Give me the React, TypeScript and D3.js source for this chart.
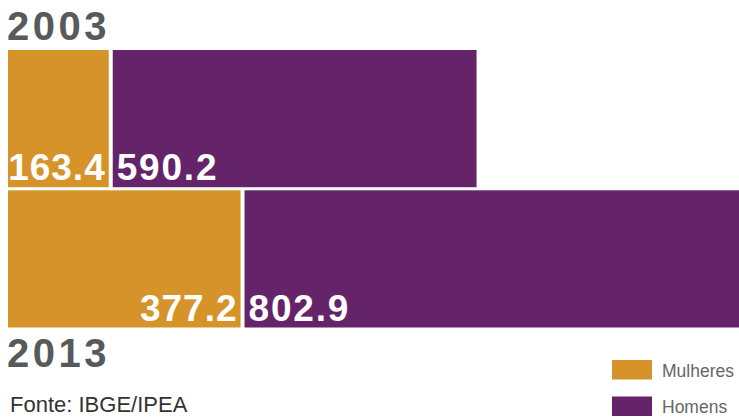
import React from "react";
import * as d3 from "d3";

const years = ["2003", "2013"];
const mulheres = [163.4, 377.2];
const homens = [590.2, 802.9];
const seriesNames = ["Mulheres", "Homens"];
const colors = ["#D6932A", "#652369"];

const W = 739;
const H = 417;

export default function App() {
  const left = 8;
  const gap = 4;
  const x = d3.scaleLinear().domain([0, 1180.1]).range([0, 727.5]);
  const y = d3.scaleBand().domain(years).range([50, 327.5]).paddingInner(0.022);
  const bw = y.bandwidth();
  const font = "'Liberation Sans', Arial, Helvetica, sans-serif";

  return (
    <svg width={W} height={H} style={{ position: "absolute", left: 0, top: 0, display: "block" }} fontFamily={font}>
      {years.map((yr, i) => {
        const y0 = y(yr) as number;
        const mw = x(mulheres[i]);
        const hx = left + mw + gap;
        const hw = x(homens[i]);
        const labelY = y0 + bw - 7;
        return (
          <g key={yr}>
            <rect x={left} y={y0} width={mw} height={bw} fill={colors[0]} />
            <rect x={hx} y={y0} width={hw} height={bw} fill={colors[1]} />
            <text x={left + mw - 3} y={labelY} textAnchor="end" fill="#fff" fontWeight="bold" fontSize={37} letterSpacing={1}>
              {mulheres[i].toFixed(1)}
            </text>
            <text x={hx + 4} y={labelY} fill="#fff" fontWeight="bold" fontSize={37} letterSpacing={1.8}>
              {homens[i].toFixed(1)}
            </text>
          </g>
        );
      })}
      <text x={7} y={40} fill="#58595B" fontWeight="bold" fontSize={40} letterSpacing={3.5}>{years[0]}</text>
      <text x={7} y={367} fill="#58595B" fontWeight="bold" fontSize={40} letterSpacing={3.5}>{years[1]}</text>
      <text x={10} y={412} fill="#333" fontSize={22}>Fonte: IBGE/IPEA</text>
      {seriesNames.map((s, i) => (
        <g key={s}>
          <rect x={612} y={360 + i * 36.5} width={40} height={19.5} fill={colors[i]} />
          <text x={662} y={376.5 + i * 36.5} fill="#666" fontSize={17.5}>{s}</text>
        </g>
      ))}
    </svg>
  );
}
